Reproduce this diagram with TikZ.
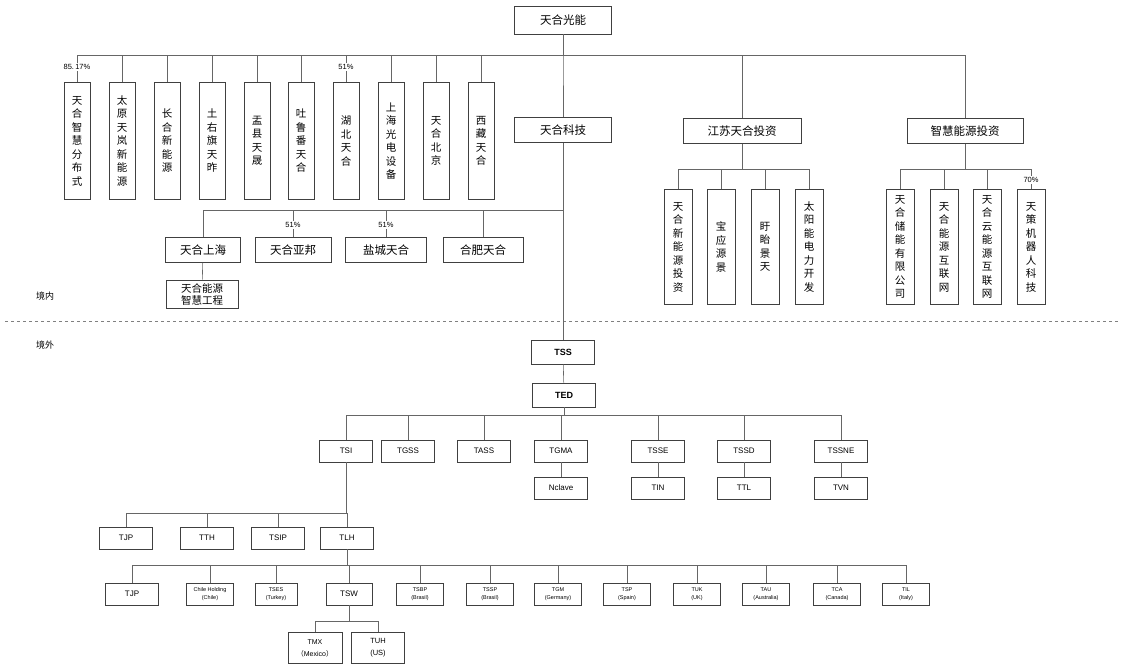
\documentclass[tikz,border=0pt]{standalone}
\usepackage{fontspec}
\setmainfont{Liberation Sans}
\newfontfamily\cjk{Noto Sans CJK SC}
\usetikzlibrary{calc,positioning}
\tikzset{
  box/.style={draw=black!75,line width=0.6pt,inner sep=1pt,align=center},
  cn/.style={box,font=\cjk\fontsize{11.5}{13}\selectfont,minimum height=25pt},
  vbox/.style={box,font=\cjk\fontsize{10.5}{13.5}\selectfont,minimum width=26pt,minimum height=117pt,text width=12pt},
  sbox/.style={vbox,minimum width=28pt,minimum height=115pt},
  en/.style={box,font=\fontsize{8}{9}\selectfont,minimum width=53pt,minimum height=22pt},
  tiny/.style={box,font=\fontsize{5.5}{8}\selectfont,minimum width=47pt,minimum height=22pt},
  pct/.style={font=\fontsize{7.5}{8}\selectfont,inner sep=1pt,fill=white},
  ln/.style={draw=black!60,line width=0.6pt}
}
\begin{document}
\begin{tikzpicture}[x=1pt,y=-1pt]
  \useasboundingbox (0,0) rectangle (1121,670);

  % domestic
  \node[cn,minimum width=97pt,minimum height=28pt] (tg) at (563,20) {天合光能};
  \coordinate (b1) at (563,55);
  \node[vbox] (d0) at (77,141)  {天\\合\\智\\慧\\分\\布\\式};
  \node[vbox] (d1) at (122,141) {太\\原\\天\\岚\\新\\能\\源};
  \node[vbox] (d2) at (167,141) {长\\合\\新\\能\\源};
  \node[vbox] (d3) at (212,141) {土\\右\\旗\\天\\昨};
  \node[vbox] (d4) at (257,141) {盂\\县\\天\\晟};
  \node[vbox] (d5) at (301,141) {吐\\鲁\\番\\天\\合};
  \node[vbox] (d6) at (346,141) {湖\\北\\天\\合};
  \node[vbox] (d7) at (391,141) {上\\海\\光\\电\\设\\备};
  \node[vbox] (d8) at (436,141) {天\\合\\北\\京};
  \node[vbox] (d9) at (481,141) {西\\藏\\天\\合};
  \foreach \c in {d0,d1,d2,d3,d4,d5,d6,d7,d8,d9}
    \draw[ln] (tg.south) -- (tg.south |- b1) -| (\c.north);
  \node[pct] at (77,67) {85.\,17\%};
  \node[pct] at (346,67) {51\%};

  \node[cn,minimum width=97pt] (tk) at (563,130) {天合科技};
  \node[cn,minimum width=118pt] (js) at (742,131) {江苏天合投资};
  \node[cn,minimum width=116pt] (zh) at (965,131) {智慧能源投资};
  \foreach \c in {tk,js,zh}
    \draw[ln] (tg.south) -- (tg.south |- b1) -| (\c.north);

  \coordinate (b2) at (563,210);
  \node[cn,minimum width=75pt] (sh) at (203,250) {天合上海};
  \node[cn,minimum width=76pt] (yb) at (293,250) {天合亚邦};
  \node[cn,minimum width=81pt] (yc) at (386,250) {盐城天合};
  \node[cn,minimum width=80pt] (hf) at (483,250) {合肥天合};
  \foreach \c in {sh,yb,yc,hf}
    \draw[ln] (tk.south) -- (tk.south |- b2) -| (\c.north);
  \node[pct] at (293,225) {51\%};
  \node[pct] at (386,225) {51\%};
  \node[box,font=\cjk\fontsize{10.5}{12}\selectfont,minimum width=72pt,minimum height=28pt] (zg) at (202,294) {天合能源\\智慧工程};
  \draw[ln] (sh) -- (zg);

  \coordinate (b3) at (742,169);
  \node[sbox] (j0) at (678,247) {天\\合\\新\\能\\源\\投\\资};
  \node[sbox] (j1) at (721,247) {宝\\应\\源\\景};
  \node[sbox] (j2) at (765,247) {盱\\眙\\景\\天};
  \node[sbox] (j3) at (809,247) {太\\阳\\能\\电\\力\\开\\发};
  \foreach \c in {j0,j1,j2,j3}
    \draw[ln] (js.south) -- (js.south |- b3) -| (\c.north);

  \node[sbox] (z0) at (900,247) {天\\合\\储\\能\\有\\限\\公\\司};
  \node[sbox] (z1) at (944,247) {天\\合\\能\\源\\互\\联\\网};
  \node[sbox] (z2) at (987,247) {天\\合\\云\\能\\源\\互\\联\\网};
  \node[sbox] (z3) at (1031,247) {天\\策\\机\\器\\人\\科\\技};
  \foreach \c in {z0,z1,z2,z3}
    \draw[ln] (zh.south) -- (zh.south |- b3) -| (\c.north);
  \node[pct] at (1031,180) {70\%};

  % border
  \draw[draw=black!50,dashed,line width=0.6pt] (5,321) -- (1121,321);
  \node[font=\cjk\fontsize{9}{10}\selectfont] (jn) at (45,296) {境内};
  \node[font=\cjk\fontsize{9}{10}\selectfont] (jw) at (45,345) {境外};

  % overseas
  \node[en,minimum width=63pt,minimum height=24pt,font=\bfseries\fontsize{9}{10}\selectfont] (tss) at (563,352) {TSS};
  \node[en,minimum width=63pt,minimum height=24pt,font=\bfseries\fontsize{9}{10}\selectfont] (ted) at (564,395) {TED};
  \draw[ln] (tk) -- (tss);
  \draw[ln] (tss) -- (ted);

  \coordinate (b4) at (564,415);
  \node[en] (tsi) at (346,451) {TSI};
  \node[en] (tgss) at (408,451) {TGSS};
  \node[en] (tass) at (484,451) {TASS};
  \node[en] (tgma) at (561,451) {TGMA};
  \node[en] (tsse) at (658,451) {TSSE};
  \node[en] (tssd) at (744,451) {TSSD};
  \node[en] (tssne) at (841,451) {TSSNE};
  \foreach \c in {tsi,tgss,tass,tgma,tsse,tssd,tssne}
    \draw[ln] (ted.south) -- (ted.south |- b4) -| (\c.north);
  \node[en] (ncl) at (561,488) {Nclave};
  \node[en] (tin) at (658,488) {TIN};
  \node[en] (ttl) at (744,488) {TTL};
  \node[en] (tvn) at (841,488) {TVN};
  \draw[ln] (tgma) -- (ncl);
  \draw[ln] (tsse) -- (tin);
  \draw[ln] (tssd) -- (ttl);
  \draw[ln] (tssne) -- (tvn);

  \coordinate (b5) at (346,513);
  \node[en] (tjp) at (126,538) {TJP};
  \node[en] (tth) at (207,538) {TTH};
  \node[en] (tsip) at (278,538) {TSIP};
  \node[en] (tlh) at (347,538) {TLH};
  \foreach \c in {tjp,tth,tsip,tlh}
    \draw[ln] (tsi.south) -- (tsi.south |- b5) -| (\c.north);

  \coordinate (b6) at (347,565);
  \node[en] (tjp2) at (132,594) {TJP};
  \node[tiny] (chl) at (210,594) {Chile Holding\\(Chile)};
  \node[tiny,minimum width=42pt] (tses) at (276,594) {TSES\\(Turkey)};
  \node[en,minimum width=46pt] (tsw) at (349,594) {TSW};
  \node[tiny] (tsbp) at (420,594) {TSBP\\(Brasil)};
  \node[tiny] (tssp) at (490,594) {TSSP\\(Brasil)};
  \node[tiny] (tgm) at (558,594) {TGM\\(Germany)};
  \node[tiny] (tsp) at (627,594) {TSP\\(Spain)};
  \node[tiny] (tuk) at (697,594) {TUK\\(UK)};
  \node[tiny] (tau) at (766,594) {TAU\\(Australia)};
  \node[tiny] (tca) at (837,594) {TCA\\(Canada)};
  \node[tiny] (til) at (906,594) {TIL\\(Italy)};
  \foreach \c in {tjp2,chl,tses,tsw,tsbp,tssp,tgm,tsp,tuk,tau,tca,til}
    \draw[ln] (tlh.south) -- (tlh.south |- b6) -| (\c.north);

  \coordinate (b7) at (349,621);
  \node[en,font=\fontsize{7}{12}\selectfont,minimum width=54pt,minimum height=31pt] (tmx) at (315,648) {TMX\\{\cjk （}Mexico{\cjk ）}};
  \node[en,font=\fontsize{7.5}{12}\selectfont,minimum width=53pt,minimum height=31pt] (tuh) at (378,648) {TUH\\(US)};
  \foreach \c in {tmx,tuh}
    \draw[ln] (tsw.south) -- (tsw.south |- b7) -| (\c.north);
\end{tikzpicture}
\end{document}
